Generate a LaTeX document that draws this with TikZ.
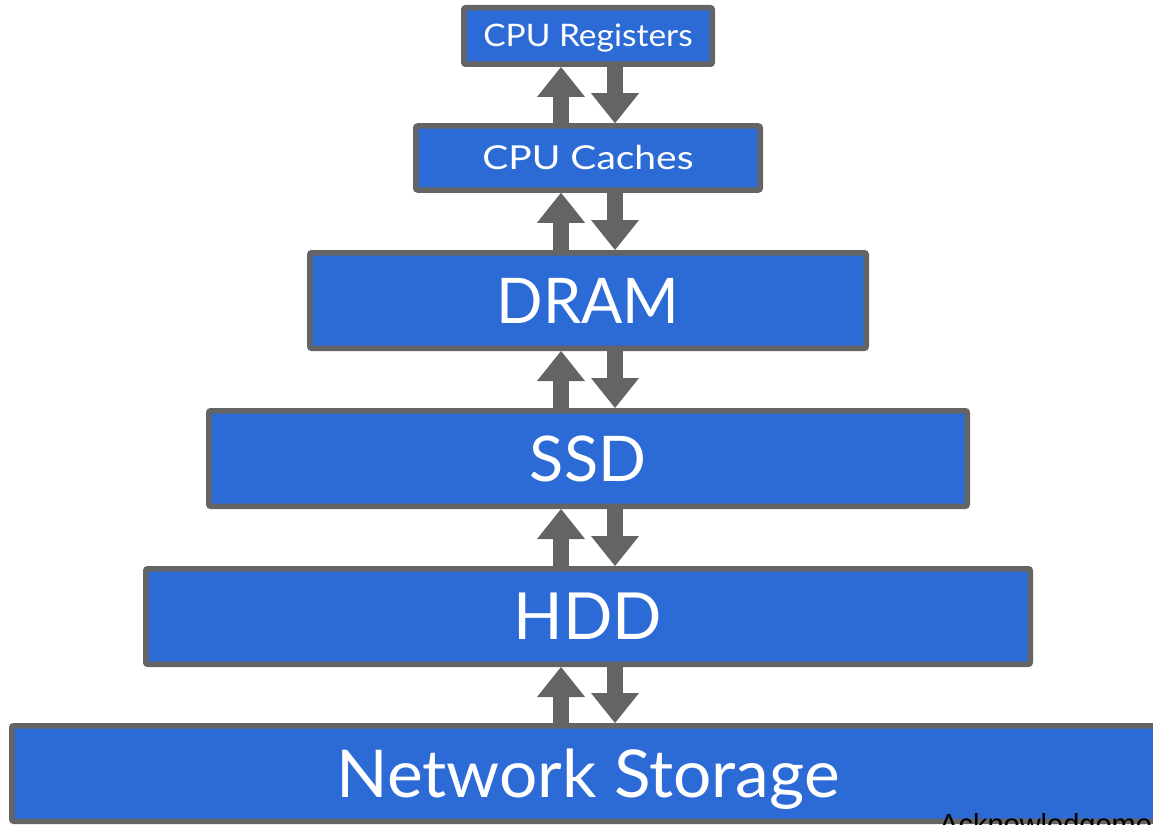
\documentclass[tikz,border=0pt]{standalone}
\usepackage{graphicx}
\usepackage{fontspec}
\setmainfont{Lato}
\newfontfamily\ackfont{Liberation Sans}
\usetikzlibrary{arrows.meta}
\definecolor{boxblue}{RGB}{44,107,214}
\definecolor{boxgray}{RGB}{100,100,100}
\begin{document}
\begin{tikzpicture}[x=1pt,y=-1pt,
  lvl/.style={draw=boxgray, fill=boxblue, line width=5.5pt, rounded corners=2pt,
    text=white, inner sep=0pt, text depth=0pt, anchor=center},
  arr/.style={draw=boxgray, line width=16pt,
    -{Triangle[width=48pt,length=30pt,line width=0pt]}}]
\useasboundingbox (0,0) rectangle (1153,824);
\node[lvl, minimum width=248.5pt, minimum height=56.5pt,
  font=\fontsize{31}{31}\selectfont, text height=22pt] (reg) at (588,36) {\scalebox{1.08}[1]{CPU Registers}};
\node[lvl, minimum width=344.5pt, minimum height=64pt,
  font=\fontsize{33}{33}\selectfont, text height=23.5pt] (cache) at (588,158) {\scalebox{1.18}[1]{CPU Caches}};
\node[lvl, minimum width=556.5pt, minimum height=95.5pt,
  font=\fontsize{63}{63}\selectfont, text height=45pt] (dram) at (588,300.5) {\scalebox{0.97}[1]{DRAM}};
\node[lvl, minimum width=758.5pt, minimum height=95.5pt,
  font=\fontsize{63}{63}\selectfont, text height=45pt] (ssd) at (588,458.5) {SSD};
\node[lvl, minimum width=884.5pt, minimum height=95.5pt,
  font=\fontsize{65}{65}\selectfont, text height=46.5pt] (hdd) at (588,616.5) {HDD};
\node[lvl, minimum width=1152.5pt, minimum height=95.5pt,
  font=\fontsize{66}{66}\selectfont, text height=47.3pt] (net) at (588,773.5) {\scalebox{1.025}[1]{Network Storage}};
\foreach \a/\b in {reg/cache, cache/dram, dram/ssd, ssd/hdd, hdd/net}{
  \draw[arr] ([xshift=-27pt]\b.north) -- ([xshift=-27pt]\a.south);
  \draw[arr] ([xshift=27pt]\a.south) -- ([xshift=27pt]\b.north);
}
\node[anchor=base west, inner sep=0pt, text=black,
  font=\ackfont\fontsize{29}{29}\selectfont] (ack) at (939,834) {Acknowledgements};
\end{tikzpicture}
\end{document}
